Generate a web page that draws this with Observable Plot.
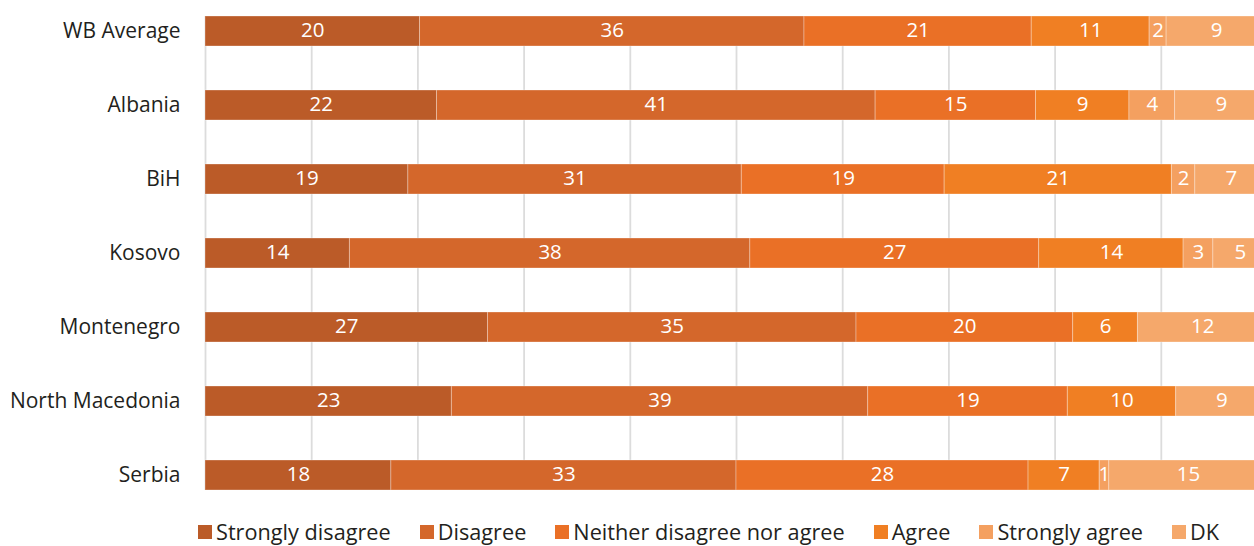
<!DOCTYPE html>
<html>
<head>
<meta charset="utf-8">
<script src="https://cdn.jsdelivr.net/npm/d3@7"></script>
<script src="https://cdn.jsdelivr.net/npm/@observablehq/plot@0.6"></script>
<style>
  html, body { margin: 0; padding: 0; background: #fff; overflow: hidden; }
  #chart { width: 1254px; }
  .lg-swatch { margin-right: 29px !important; }
  .lg-swatch > svg { margin-right: 4px !important; }
</style>
</head>
<body>
<div id="chart"></div>
<script>
const categories = ["WB Average", "Albania", "BiH", "Kosovo", "Montenegro", "North Macedonia", "Serbia"];
const responses = ["Strongly disagree", "Disagree", "Neither disagree nor agree", "Agree", "Strongly agree", "DK"];
const colors = ["#bb5b28", "#d4672b", "#ea7026", "#f07f23", "#f4a060", "#f5a86b"];

const stronglyDisagree = [20.2, 21.8, 19.1, 13.6, 26.6, 23.2, 17.5];
const disagree         = [36.2, 41.3, 31.4, 37.7, 34.7, 39.2, 32.5];
const neither          = [21.4, 15.1, 19.1, 27.2, 20.4, 18.8, 27.5];
const agree            = [11.1,  8.8, 21.4, 13.6,  6.1, 10.2,  6.7];
const stronglyAgree    = [ 1.6,  4.3,  2.2,  2.8,  0.0,  0.0,  0.9];
const dk               = [ 9.4,  8.7,  6.8,  5.1, 12.2,  8.6, 14.9];

const series = [stronglyDisagree, disagree, neither, agree, stronglyAgree, dk];
const rows = [];
categories.forEach((c, i) => {
  responses.forEach((r, j) => {
    rows.push({country: c, response: r, value: series[j][i]});
  });
});
const shown = rows.filter(d => d.value > 0);

const font = "'Open Sans', sans-serif";

const plot = Plot.plot({
  width: 1254,
  height: 505,
  marginLeft: 205,
  marginRight: -13,
  marginTop: 16,
  marginBottom: 15,
  style: {fontFamily: font, background: "#fff", overflow: "hidden"},
  x: {domain: [0, 100], axis: null},
  y: {domain: categories, paddingInner: 0.6, paddingOuter: 0, label: null},
  color: {domain: responses, range: colors},
  marks: [
    Plot.gridX({ticks: d3.range(0, 101, 10), stroke: "#dcdcdc", strokeOpacity: 1, strokeWidth: 1.8}),
    Plot.barX(shown, {x: "value", y: "country", fill: "response", order: responses,
      stroke: "#fff", strokeOpacity: 0.3, strokeWidth: 1, inset: 0}),
    Plot.text(shown, Plot.stackX({x: "value", y: "country", z: "response", order: responses,
      text: d => String(Math.round(d.value)), fill: "#fff", fontSize: 20.5, dy: -1})),
    Plot.axisY({tickSize: 0, tickPadding: 25, fontSize: 21, fill: "#231f20", label: null})
  ]
});

const legend = Plot.legend({
  color: {domain: responses, range: colors},
  legend: "swatches",
  swatchSize: 14,
  className: "lg",
  style: {fontFamily: font, fontSize: "21.7px", color: "#231f20", marginLeft: "198px", marginTop: "10px"}
});

const chart = document.getElementById("chart");
chart.appendChild(plot);
chart.appendChild(legend);
</script>
</body>
</html>
